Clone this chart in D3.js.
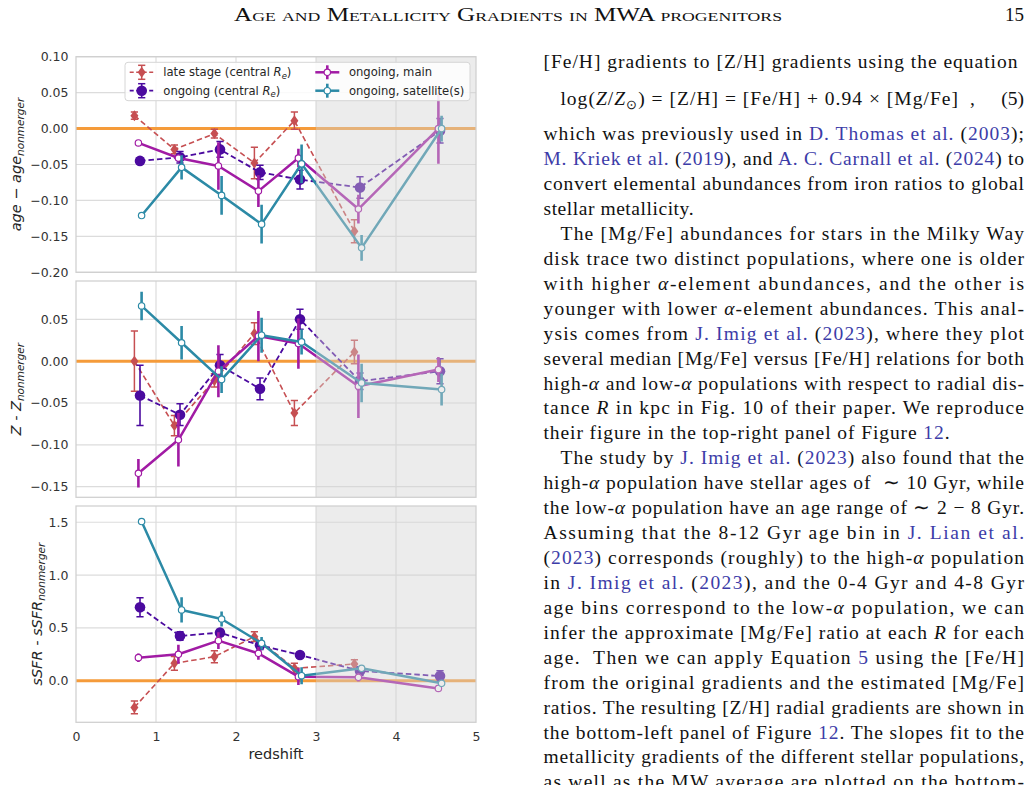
<!DOCTYPE html>
<html>
<head>
<meta charset="utf-8">
<script src="https://cdn.jsdelivr.net/npm/d3@7"></script>
<style>
  html, body { margin: 0; padding: 0; background: #fff; }
  svg { display: block; }
</style>
</head>
<body>
<div id="page"></div>
<script>
// redshift of each bin, per sample (slightly offset so the bars do not overlap)
const zLate    = [0.73, 1.23, 1.73, 2.23, 2.73, 3.48];
const zCentral = [0.80, 1.30, 1.80, 2.30, 2.80, 3.55, 4.55];
const zMain    = [0.78, 1.28, 1.78, 2.28, 2.78, 3.53, 4.53];
const zSat     = [0.82, 1.32, 1.82, 2.32, 2.82, 3.57, 4.57];

// age - age_nonmerger
const ageLate       = [0.018, -0.029, -0.007, -0.048, 0.011, -0.143];
const ageLateErr    = [0.005, 0.006, 0.006, 0.022, 0.012, 0.016];
const ageCentral    = [-0.045, -0.040, -0.029, -0.061, -0.071, -0.082, -0.003];
const ageCentralErr = [0.004, 0.008, 0.011, 0.010, 0.013, 0.015, 0.017];
const ageMain       = [-0.020, -0.041, -0.052, -0.087, -0.041, -0.112, 0.000];
const ageMainErr    = [0.002, 0.004, 0.033, 0.022, 0.013, 0.020, 0.049];
const ageSat        = [-0.121, -0.054, -0.093, -0.133, -0.049, -0.166, 0.000];
const ageSatErr     = [0.002, 0.017, 0.027, 0.027, 0.027, 0.018, 0.018];

// Z - Z_nonmerger
const metLate       = [0.000, -0.077, -0.023, 0.033, -0.062, 0.011];
const metLateErr    = [0.036, 0.012, 0.008, 0.013, 0.015, 0.014];
const metCentral    = [-0.041, -0.064, -0.005, -0.033, 0.050, -0.024, -0.012];
const metCentralErr = [0.036, 0.013, 0.013, 0.013, 0.012, 0.010, 0.015];
const metMain       = [-0.134, -0.094, -0.012, 0.030, 0.021, -0.030, -0.010];
const metMainErr    = [0.017, 0.032, 0.031, 0.030, 0.030, 0.038, 0.015];
const metSat        = [0.066, 0.022, -0.022, 0.031, 0.023, -0.026, -0.034];
const metSatErr     = [0.017, 0.020, 0.016, 0.021, 0.015, 0.023, 0.019];

// sSFR - sSFR_nonmerger
const sfrLate       = [-0.253, 0.164, 0.227, 0.417, 0.117, 0.158];
const sfrLateErr    = [0.060, 0.066, 0.057, 0.047, 0.047, 0.040];
const sfrCentral    = [0.695, 0.423, 0.455, 0.335, 0.243, 0.092, 0.044];
const sfrCentralErr = [0.090, 0.040, 0.030, 0.040, 0.020, 0.040, 0.050];
const sfrMain       = [0.218, 0.250, 0.379, 0.259, 0.038, 0.032, -0.073];
const sfrMainErr    = [0.040, 0.090, 0.080, 0.060, 0.080, 0.040, 0.030];
const sfrSat        = [1.507, 0.670, 0.584, 0.354, 0.047, 0.117, -0.025];
const sfrSatErr     = [0.030, 0.120, 0.070, 0.060, 0.080, 0.030, 0.020];

// ticks
const xTicks = [0, 1, 2, 3, 4, 5];
const yTicksAge = [0.10, 0.05, 0.00, -0.05, -0.10, -0.15, -0.20];
const yTicksMet = [0.05, 0.00, -0.05, -0.10, -0.15];
const yTicksSfr = [1.5, 1.0, 0.5, 0.0];
const shadeRange = [3, 5];

const legendLabels = ['late stage (central ', 'ongoing (central ', 'ongoing, main', 'ongoing, satellite(s)'];

const config = {
  width: 1032,
  height: 785,
  left: 76,
  right: 476,
  panels: [
    {top: 56.7, bottom: 272.3, domain: [-0.20, 0.10], fmt: '.2f', labelX: 20.5},
    {top: 281.0, bottom: 497.3, domain: [-0.1627, 0.0958], fmt: '.2f', labelX: 20.5},
    {top: 506.0, bottom: 722.3, domain: [-0.394, 1.654], fmt: '.1f', labelX: 41.5}
  ]
};

const styles = {
  late:    {color: '#c64f52', dash: '5.5,3', width: 1.6, marker: 'diamond', cap: true,  errWidth: 1.5},
  central: {color: '#4b0a9f', dash: '5.5,3', width: 1.8, marker: 'dot',     cap: true,  errWidth: 1.6},
  main:    {color: '#a11ba4', dash: null,    width: 2.5, marker: 'open',    cap: false, errWidth: 2.6},
  sat:     {color: '#2c8aa6', dash: null,    width: 2.5, marker: 'open',    cap: false, errWidth: 2.6}
};

const panelData = [
  {ticks: yTicksAge, series: {late: [zLate, ageLate, ageLateErr], central: [zCentral, ageCentral, ageCentralErr], main: [zMain, ageMain, ageMainErr], sat: [zSat, ageSat, ageSatErr]}},
  {ticks: yTicksMet, series: {late: [zLate, metLate, metLateErr], central: [zCentral, metCentral, metCentralErr], main: [zMain, metMain, metMainErr], sat: [zSat, metSat, metSatErr]}},
  {ticks: yTicksSfr, series: {late: [zLate, sfrLate, sfrLateErr], central: [zCentral, sfrCentral, sfrCentralErr], main: [zMain, sfrMain, sfrMainErr], sat: [zSat, sfrSat, sfrSatErr]}}
];

// right column text: {..} = link colour, *..* = italic
const bodyLines = [
  {s: '[Fe/H] gradients to [Z/H] gradients using the equation', w: 474},
  {eq: true},
  {s: 'which was previously used in {D. Thomas et al.} ({2003});'},
  {s: '{M. Kriek et al.} ({2019}), and {A. C. Carnall et al.} ({2024}) to'},
  {s: 'convert elemental abundances from iron ratios to global'},
  {s: 'stellar metallicity.', w: 150},
  {s: 'The [Mg/Fe] abundances for stars in the Milky Way', indent: true},
  {s: 'disk trace two distinct populations, where one is older'},
  {s: 'with higher *α*-element abundances, and the other is'},
  {s: 'younger with lower *α*-element abundances. This anal-'},
  {s: 'ysis comes from {J. Imig et al.} ({2023}), where they plot'},
  {s: 'several median [Mg/Fe] versus [Fe/H] relations for both'},
  {s: 'high-*α* and low-*α* populations with respect to radial dis-'},
  {s: 'tance *R* in kpc in Fig. 10 of their paper. We reproduce'},
  {s: 'their figure in the top-right panel of Figure {12}.', w: 406},
  {s: 'The study by {J. Imig et al.} ({2023}) also found that the', indent: true},
  {s: 'high-*α* population have stellar ages of  ∼ 10 Gyr, while'},
  {s: 'the low-*α* population have an age range of ∼ 2 − 8 Gyr.'},
  {s: 'Assuming that the 8-12 Gyr age bin in {J. Lian et al.}'},
  {s: '({2023}) corresponds (roughly) to the high-*α* population'},
  {s: 'in {J. Imig et al.} ({2023}), and the 0-4 Gyr and 4-8 Gyr'},
  {s: 'age bins correspond to the low-*α* population, we can'},
  {s: 'infer the approximate [Mg/Fe] ratio at each *R* for each'},
  {s: 'age.  Then we can apply Equation {5} using the [Fe/H]'},
  {s: 'from the original gradients and the estimated [Mg/Fe]'},
  {s: 'ratios. The resulting [Z/H] radial gradients are shown in'},
  {s: 'the bottom-left panel of Figure {12}. The slopes fit to the'},
  {s: 'metallicity gradients of the different stellar populations,'},
  {s: 'as well as the MW average are plotted on the bottom-'}
];

const svg = d3.select('#page').append('svg')
  .attr('width', config.width)
  .attr('height', config.height)
  .attr('viewBox', `0 0 ${config.width} ${config.height}`);

svg.append('rect').attr('width', config.width).attr('height', config.height).attr('fill', '#fff');

const xScale = d3.scaleLinear().domain([0, 5]).range([config.left, config.right]);

config.panels.forEach((p, i) => drawPanel(svg, p, panelData[i], i));
drawXAxis(svg);
drawYLabels(svg);
drawLegend(svg);
drawHeader(svg);
drawBody(svg);

function drawPanel (svg, p, pd, idx) {
  const yScale = d3.scaleLinear().domain(p.domain).range([p.bottom, p.top]);
  const g = svg.append('g').attr('class', 'panel' + idx);

  g.append('clipPath').attr('id', 'clip' + idx)
    .append('rect')
    .attr('x', config.left).attr('y', p.top)
    .attr('width', config.right - config.left).attr('height', p.bottom - p.top);

  // grille
  g.append('g').selectAll(null)
    .data(pd.ticks)
    .join('line')
    .attr('x1', config.left).attr('x2', config.right)
    .attr('y1', d => yScale(d)).attr('y2', d => yScale(d))
    .attr('stroke', '#dcdcdc').attr('stroke-width', 1.2);
  g.append('g').selectAll(null)
    .data(xTicks.slice(1, -1))
    .join('line')
    .attr('x1', d => xScale(d)).attr('x2', d => xScale(d))
    .attr('y1', p.top).attr('y2', p.bottom)
    .attr('stroke', '#dcdcdc').attr('stroke-width', 1.2);

  const plot = g.append('g').attr('clip-path', `url(#clip${idx})`);

  // ligne zéro
  plot.append('line')
    .attr('x1', config.left).attr('x2', config.right)
    .attr('y1', yScale(0)).attr('y2', yScale(0))
    .attr('stroke', '#f59b3a').attr('stroke-width', 3);

  Object.keys(styles).forEach(key => {
    const [xs, ys, es] = pd.series[key];
    drawSeries(plot, xs, ys, es, styles[key], yScale);
  });

  // zone ombrée (au-dessus des données, comme axvspan)
  plot.append('rect')
    .attr('x', xScale(shadeRange[0])).attr('y', p.top)
    .attr('width', xScale(shadeRange[1]) - xScale(shadeRange[0]))
    .attr('height', p.bottom - p.top)
    .attr('fill', '#d2d2d2').attr('opacity', 0.42);

  // cadre
  g.append('rect')
    .attr('x', config.left).attr('y', p.top)
    .attr('width', config.right - config.left).attr('height', p.bottom - p.top)
    .attr('fill', 'none').attr('stroke', '#cfcfcf').attr('stroke-width', 1.25);

  drawYAxis(g, yScale, pd.ticks, p.fmt);
}

function drawSeries (plot, xs, ys, es, st, yScale) {
  const pts = xs.map((x, i) => ({x, y: ys[i], e: es[i]}));
  const line = d3.line().x(d => xScale(d.x)).y(d => yScale(d.y));
  plot.append('path')
    .datum(pts)
    .attr('d', line)
    .attr('fill', 'none')
    .attr('stroke', st.color)
    .attr('stroke-width', st.width)
    .attr('stroke-dasharray', st.dash)
    .attr('stroke-linejoin', 'round');

  const eb = plot.append('g');
  eb.selectAll(null)
    .data(pts)
    .join('line')
    .attr('x1', d => xScale(d.x)).attr('x2', d => xScale(d.x))
    .attr('y1', d => yScale(d.y - d.e)).attr('y2', d => yScale(d.y + d.e))
    .attr('stroke', st.color).attr('stroke-width', st.errWidth);
  if (st.cap) {
    [-1, 1].forEach(sgn => {
      eb.selectAll(null)
        .data(pts)
        .join('line')
        .attr('x1', d => xScale(d.x) - 3.6).attr('x2', d => xScale(d.x) + 3.6)
        .attr('y1', d => yScale(d.y + sgn * d.e))
        .attr('y2', d => yScale(d.y + sgn * d.e))
        .attr('stroke', st.color).attr('stroke-width', 1.5);
    });
  }
  drawMarkers(plot, pts.map(d => [xScale(d.x), yScale(d.y)]), st);
}

function drawMarkers (g, coords, st) {
  if (st.marker === 'diamond') {
    g.selectAll(null).data(coords).join('path')
      .attr('d', d => `M${d[0]},${d[1] - 5.5}L${d[0] + 4},${d[1]}L${d[0]},${d[1] + 5.5}L${d[0] - 4},${d[1]}Z`)
      .attr('fill', st.color);
  } else if (st.marker === 'dot') {
    g.selectAll(null).data(coords).join('circle')
      .attr('cx', d => d[0]).attr('cy', d => d[1]).attr('r', 5.3)
      .attr('fill', st.color);
  } else {
    g.selectAll(null).data(coords).join('circle')
      .attr('cx', d => d[0]).attr('cy', d => d[1]).attr('r', 3.2)
      .attr('fill', '#fff').attr('stroke', st.color).attr('stroke-width', 1.2);
  }
}

function drawYAxis (g, yScale, ticks, fmt) {
  const ax = g.append('g')
    .attr('transform', `translate(${config.left},0)`)
    .call(d3.axisLeft(yScale).tickValues(ticks).tickSize(0).tickPadding(7.5).tickFormat(d3.format(fmt)));
  ax.select('.domain').remove();
  ax.selectAll('text')
    .attr('font-family', 'DejaVu Sans')
    .attr('font-size', 12.5)
    .attr('fill', '#333');
}

function drawXAxis (svg) {
  const bottom = config.panels[2].bottom;
  const ax = svg.append('g')
    .attr('transform', `translate(0,${bottom})`)
    .call(d3.axisBottom(xScale).tickValues(xTicks).tickSize(0).tickPadding(9.8).tickFormat(d3.format('d')));
  ax.select('.domain').remove();
  ax.selectAll('text')
    .attr('font-family', 'DejaVu Sans')
    .attr('font-size', 12.5)
    .attr('fill', '#333');

  svg.append('text')
    .attr('x', (config.left + config.right) / 2)
    .attr('y', 759)
    .attr('text-anchor', 'middle')
    .attr('font-family', 'DejaVu Sans')
    .attr('font-size', 14.5)
    .attr('fill', '#262626')
    .text('redshift');
}

function drawYLabels (svg) {
  const labels = [['age − age', 'nonmerger'], ['Z - Z', 'nonmerger'], ['sSFR - sSFR', 'nonmerger']];
  config.panels.forEach((p, i) => {
    const t = svg.append('text')
      .attr('transform', `translate(${p.labelX},${(p.top + p.bottom) / 2}) rotate(-90)`)
      .attr('text-anchor', 'middle')
      .attr('font-family', 'DejaVu Sans')
      .attr('font-style', 'italic')
      .attr('fill', '#262626');
    t.append('tspan').attr('font-size', 14.5).text(labels[i][0]);
    t.append('tspan').attr('font-size', 10.5).attr('dy', 3.5).text(labels[i][1]);
  });
}

function drawLegend (svg) {
  const lg = svg.append('g').attr('class', 'legend');
  lg.append('rect')
    .attr('x', 125).attr('y', 62.3).attr('width', 345).attr('height', 38.4)
    .attr('rx', 3)
    .attr('fill', '#fff').attr('fill-opacity', 0.85)
    .attr('stroke', '#d6d6d6').attr('stroke-width', 1);

  const keys = Object.keys(styles);
  const cols = [141.7, 327.3];
  const rows = [72.3, 90.7];
  keys.forEach((key, i) => {
    const st = styles[key];
    const cx = cols[Math.floor(i / 2)];
    const cy = rows[i % 2];
    lg.append('line')
      .attr('x1', cx - 12).attr('x2', cx + 12).attr('y1', cy).attr('y2', cy)
      .attr('stroke', st.color).attr('stroke-width', st.width)
      .attr('stroke-dasharray', st.dash ? '4,2.5' : null);
    lg.append('line')
      .attr('x1', cx).attr('x2', cx).attr('y1', cy - 7).attr('y2', cy + 7)
      .attr('stroke', st.color).attr('stroke-width', st.errWidth);
    if (st.cap) {
      [-7, 7].forEach(dy => lg.append('line')
        .attr('x1', cx - 3.6).attr('x2', cx + 3.6).attr('y1', cy + dy).attr('y2', cy + dy)
        .attr('stroke', st.color).attr('stroke-width', 1.5));
    }
    drawMarkers(lg, [[cx, cy]], st);

    const t = lg.append('text')
      .attr('x', cx + 21.6).attr('y', cy)
      .attr('dy', '0.35em')
      .attr('font-family', 'DejaVu Sans')
      .attr('font-size', 11.6)
      .attr('fill', '#262626');
    t.append('tspan').text(legendLabels[i]);
    if (key === 'late' || key === 'central') {
      t.append('tspan').attr('font-style', 'italic').text('R');
      t.append('tspan').attr('font-style', 'italic').attr('font-size', 8.5).attr('dy', 2.5).text('e');
      t.append('tspan').attr('dy', -2.5).text(')');
    }
  });
}

function drawHeader (svg) {
  svg.append('text')
    .attr('x', 234).attr('y', 21)
    .attr('font-family', 'Liberation Serif')
    .attr('font-size', 18.5)
    .attr('font-variant', 'small-caps')
    .attr('fill', '#111')
    .attr('textLength', 548)
    .attr('lengthAdjust', 'spacingAndGlyphs')
    .text('Age and Metallicity Gradients in MWA progenitors');
  svg.append('text')
    .attr('x', 1024).attr('y', 21)
    .attr('text-anchor', 'end')
    .attr('font-family', 'Liberation Serif')
    .attr('font-size', 19)
    .attr('fill', '#111')
    .text('15');
}

function parseLine (str) {
  const segs = [];
  let cur = '', blue = false, ital = false;
  for (const ch of str) {
    if (ch === '{' || ch === '}' || ch === '*') {
      if (cur) segs.push({t: cur, blue, ital});
      cur = '';
      if (ch === '{') blue = true;
      else if (ch === '}') blue = false;
      else ital = !ital;
    } else {
      cur += ch;
    }
  }
  if (cur) segs.push({t: cur, blue, ital});
  return segs;
}

function drawBody (svg) {
  const colLeft = 543.5, colRight = 1024, indent = 17;
  const body = svg.append('g')
    .attr('font-family', 'Liberation Serif')
    .attr('font-size', 19.5)
    .attr('fill', '#111');

  bodyLines.forEach((ln, i) => {
    let y;
    if (i === 0) y = 67.8;
    else if (i === 1) y = 104.5;
    else y = 140.2 + (i - 2) * 24.93;

    if (ln.eq) {
      drawEquation(body, y);
      return;
    }
    const x = colLeft + (ln.indent ? indent : 0);
    const w = ln.w || (colRight - x);
    const t = body.append('text')
      .attr('x', x).attr('y', y)
      .attr('textLength', w)
      .attr('lengthAdjust', 'spacing')
      .style('white-space', 'pre');
    parseLine(ln.s).forEach(sg => {
      t.append('tspan')
        .attr('fill', sg.blue ? '#3c3ca8' : null)
        .attr('font-style', sg.ital ? 'italic' : null)
        .text(sg.t);
    });
  });
}

function drawEquation (body, y) {
  const t = body.append('text')
    .attr('x', 560.4).attr('y', y)
    .attr('textLength', 397.6)
    .attr('lengthAdjust', 'spacing')
    .style('white-space', 'pre');
  t.append('tspan').text('log(');
  t.append('tspan').attr('font-style', 'italic').text('Z');
  t.append('tspan').text('/');
  t.append('tspan').attr('font-style', 'italic').text('Z');
  t.append('tspan').attr('font-size', 13).attr('dy', 4).text('⊙');
  t.append('tspan').attr('dy', -4).text(') = [Z/H] = [Fe/H] + 0.94 × [Mg/Fe]');
  body.append('text').attr('x', 970).attr('y', y).text(',');
  body.append('text').attr('x', 1024).attr('y', y).attr('text-anchor', 'end').text('(5)');
}
</script>
</body>
</html>
